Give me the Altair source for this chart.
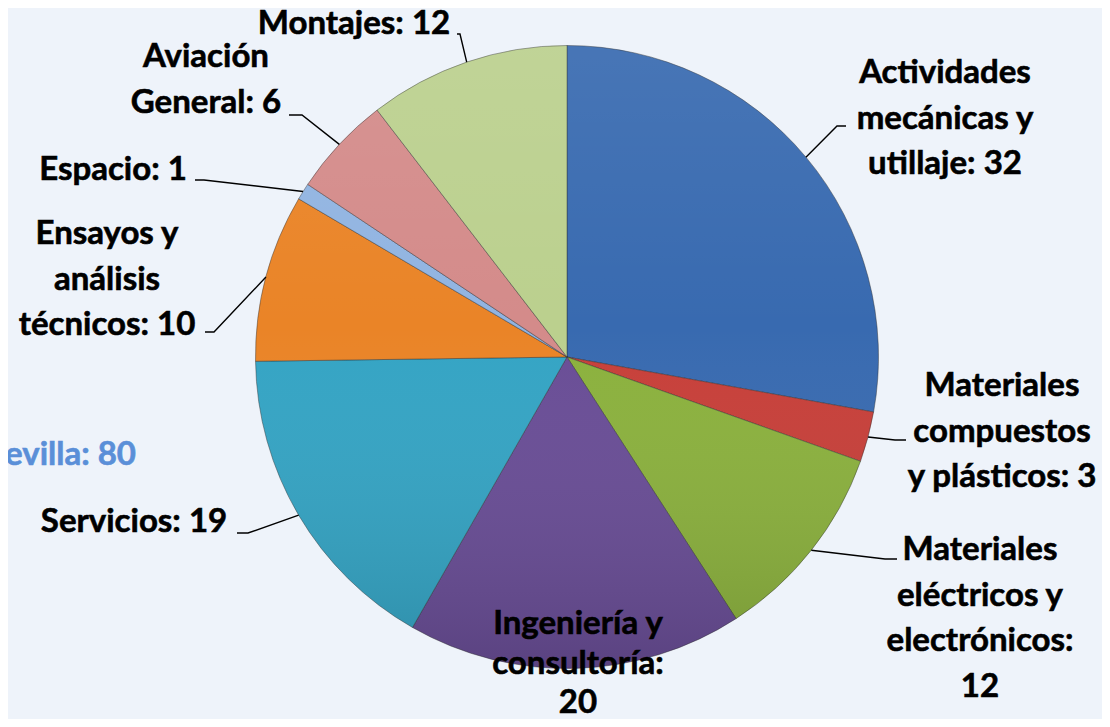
import math
import altair as alt
import pandas as pd

# ---- data ----
categories = [
    "Actividades mecánicas y utillaje",
    "Materiales compuestos y plásticos",
    "Materiales eléctricos y electrónicos",
    "Ingeniería y consultoría",
    "Servicios",
    "Ensayos y análisis técnicos",
    "Espacio",
    "Aviación General",
    "Montajes",
]
values = [32, 3, 12, 20, 19, 10, 1, 6, 12]
label_lines = [
    ["Actividades", "mecánicas y", "utillaje: 32"],
    ["Materiales", "compuestos", "y plásticos: 3"],
    ["Materiales", "eléctricos y", "electrónicos:", "12"],
    ["Ingeniería y", "consultoría:", "20"],
    ["Servicios: 19"],
    ["Ensayos y", "análisis", "técnicos: 10"],
    ["Espacio: 1"],
    ["Aviación", "General: 6"],
    ["Montajes: 12"],
]
side_text = "Sevilla: 80"

# ---- styling / layout ----
colors = ["#386AB0", "#C73F39", "#8BB13D", "#694D96", "#34A4C4",
          "#EA8427", "#91B4E1", "#D48B8A", "#BBD08E"]
OFF = 8  # page margin
CX, CY, R = 567 - OFF, 357 - OFF, 311.5
# centre x, first-line y and line height of each label block (page pixels)
label_pos = [(945, 73), (1002, 386), (980, 550), (578, 624), (134, 522),
             (107, 234), (113, 170), (206, 57), (354, 24)]
label_lh = [45.5, 45.5, 45.5, 39.5, 45.5, 45.5, 45.5, 45.5, 45.5]
leader_start = [
    [(846, 126), (837, 126)],
    [(906, 440), (895, 440)],
    [(897, 559), (885, 559)],
    None,
    [(237, 533), (248, 533)],
    [(205, 332), (214, 332)],
    [(195, 180), (204, 180)],
    [(289, 115), (302, 115)],
    [(457, 34), (460, 34)],
]
FONT = "Lato"
FS = 33

# ---- tables ----
slices = pd.DataFrame({"category": categories, "value": values,
                       "order": list(range(len(categories)))})

total = sum(values)
rows_lbl, rows_lead = [], []
cum = 0
for i, (cat, v) in enumerate(zip(categories, values)):
    mid = (cum + v / 2) / total * 2 * math.pi
    cum += v
    lx, ly = label_pos[i]
    for j, line in enumerate(label_lines[i]):
        rows_lbl.append({"category": cat, "text": line,
                         "x": lx - OFF, "y": ly - OFF + j * label_lh[i]})
    if leader_start[i] is not None:
        pts = [(px - OFF, py - OFF) for px, py in leader_start[i]]
        pts.append((CX + R * math.sin(mid), CY - R * math.cos(mid)))
        for k, (px, py) in enumerate(pts):
            rows_lead.append({"category": cat, "k": k, "x": px, "y": py})
labels = pd.DataFrame(rows_lbl)
leaders = pd.DataFrame(rows_lead)

W, H = 1094, 711

pie = alt.Chart(slices).mark_arc(
    outerRadius=R, stroke="#2b2b2b", strokeWidth=0.8, strokeOpacity=0.55
).encode(
    theta=alt.Theta("value:Q", stack=True),
    color=alt.Color("category:N", scale=alt.Scale(domain=categories, range=colors), legend=None),
    order=alt.Order("order:Q"),
    x=alt.value(CX),
    y=alt.value(CY),
)

shade = alt.Chart(pd.DataFrame({"a": [0]})).mark_arc(
    theta=0, theta2=2 * math.pi, outerRadius=R,
    color=alt.LinearGradient(
        gradient="linear",
        stops=[alt.GradientStop(color="rgba(255,255,255,0.08)", offset=0),
               alt.GradientStop(color="rgba(255,255,255,0.0)", offset=0.45),
               alt.GradientStop(color="rgba(0,0,0,0.14)", offset=1)],
        x1=0, x2=0, y1=0, y2=1),
).encode(x=alt.value(CX), y=alt.value(CY))

lead = alt.Chart(leaders).mark_line(color="black", strokeWidth=1.4).encode(
    x=alt.X("x:Q", scale=None),
    y=alt.Y("y:Q", scale=None),
    detail="category:N",
    order="k:Q",
)

text = alt.Chart(labels).mark_text(
    font=FONT, fontSize=FS, fontWeight="bold", color="black",
    stroke="black", strokeWidth=0.6,
    align="center", baseline="middle",
).encode(
    x=alt.X("x:Q", scale=None),
    y=alt.Y("y:Q", scale=None),
    text="text:N",
)

side = alt.Chart(pd.DataFrame({"t": [side_text]})).mark_text(
    font=FONT, fontSize=FS, fontWeight="bold", color="#5A8FD8",
    stroke="#5A8FD8", strokeWidth=0.6,
    align="right", baseline="middle",
).encode(x=alt.value(136 - OFF), y=alt.value(455 - OFF), text="t:N")

chart = alt.layer(pie, shade, lead, text, side).properties(
    width=W, height=H, padding=0,
    autosize=alt.AutoSizeParams(type="none"),
    background="#EEF3FA",
).configure_view(stroke=None)

chart.save("out.html", embed_options={"renderer": "svg", "actions": False})
